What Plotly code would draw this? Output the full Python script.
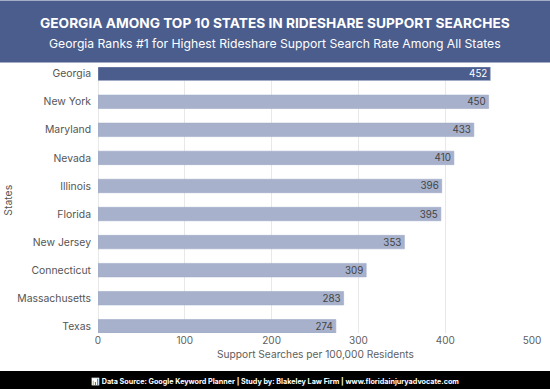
import plotly.graph_objects as go

states = ["Georgia", "New York", "Maryland", "Nevada", "Illinois", "Florida",
          "New Jersey", "Connecticut", "Massachusetts", "Texas"]
searches = [452, 450, 433, 410, 396, 395, 353, 309, 283, 274]
x_ticks = [0, 100, 200, 300, 400, 500]

title = "GEORGIA AMONG TOP 10 STATES IN RIDESHARE SUPPORT SEARCHES"
subtitle = "Georgia Ranks #1 for Highest Rideshare Support Search Rate Among All States"
footer = "📊 Data Source: Google Keyword Planner | Study by: Blakeley Law Firm | www.floridainjuryadvocate.com"
x_label = "Support Searches per 100,000 Residents"
y_label = "States"

NAVY = "#4a5d8d"
LIGHT = "#a7b1cc"
FONT = "Inter, Lato, sans-serif"
W, H = 550, 389
ML, MR, MT, MB = 98.2, 18.4, 66.5, 56
PW, PH = W - ML - MR, H - MT - MB
CENTER_SHIFT = W / 2 - (ML + PW / 2)


def py(pixel_from_top):
    return (H - MB - pixel_from_top) / PH


def px(pixel_from_left):
    return (pixel_from_left - ML) / PW


colors = [NAVY] + [LIGHT] * (len(states) - 1)
text_colors = ["#ffffff"] + ["#444444"] * (len(states) - 1)

fig = go.Figure(go.Bar(
    y=states, x=searches, orientation="h",
    marker=dict(color=colors, line=dict(color="#a0abc8", width=0.6)),
    text=searches, textposition="inside", insidetextanchor="end",
    textangle=0, constraintext="none",
    textfont=dict(family=FONT, size=9.8, color=text_colors),
    width=0.48, cliponaxis=False, hoverinfo="skip",
))

fig.update_layout(
    template="none",
    width=W, height=H, autosize=False,
    margin=dict(l=ML, r=MR, t=MT, b=MB, pad=0),
    paper_bgcolor="#ffffff", plot_bgcolor="#ffffff",
    font=dict(family=FONT, size=11, color="#555555"),
    showlegend=False,
    xaxis=dict(range=[0, 500], tickvals=x_ticks, showgrid=True, gridcolor="#e8e8e8",
               gridwidth=1, zeroline=True, zerolinecolor="#e8e8e8", ticks="", showline=False,
               automargin=False,
               tickfont=dict(size=10, color="#606060")),
    yaxis=dict(categoryorder="array", categoryarray=states, range=[9.24, -0.24],
               ticks="", showgrid=False, showline=False, zeroline=False, automargin=False,
               ticklabelstandoff=6,
               tickfont=dict(size=10.4, color="#555555")),
    shapes=[
        dict(type="rect", xref="paper", yref="paper", x0=-ML / PW, x1=1 + MR / PW,
             y0=py(62), y1=py(0), fillcolor=NAVY, line=dict(width=0), layer="above"),
        dict(type="rect", xref="paper", yref="paper", x0=-ML / PW, x1=1 + MR / PW,
             y0=py(H), y1=py(371), fillcolor="#000000", line=dict(width=0), layer="above"),
    ],
    annotations=[
        dict(text="<b>" + title + "</b>", xref="paper", yref="paper", x=0.5, y=py(22),
             xshift=CENTER_SHIFT, yanchor="middle", showarrow=False,
             font=dict(size=13.7, color="#ffffff", family=FONT)),
        dict(text=subtitle, xref="paper", yref="paper", x=0.5, y=py(43),
             xshift=CENTER_SHIFT, yanchor="middle", showarrow=False,
             font=dict(size=12.2, color="#ffffff", family=FONT)),
        dict(text="<b>" + footer + "</b>", xref="paper", yref="paper", x=0.5, y=py(382),
             xshift=CENTER_SHIFT, yanchor="middle", showarrow=False,
             font=dict(size=7.2, color="#ffffff", family=FONT)),
        dict(text=x_label, xref="paper", yref="paper", x=0.5, y=py(354), yanchor="middle",
             showarrow=False, font=dict(size=10.2, color="#606060", family=FONT)),
        dict(text=y_label, xref="paper", yref="paper", x=px(8), y=0.5, xanchor="center",
             yanchor="middle", textangle=-90, showarrow=False,
             font=dict(size=10.4, color="#555555", family=FONT)),
    ],
)

fig.write_html("out.html", config={"displayModeBar": False},
               post_script="document.body.style.margin='0';")
